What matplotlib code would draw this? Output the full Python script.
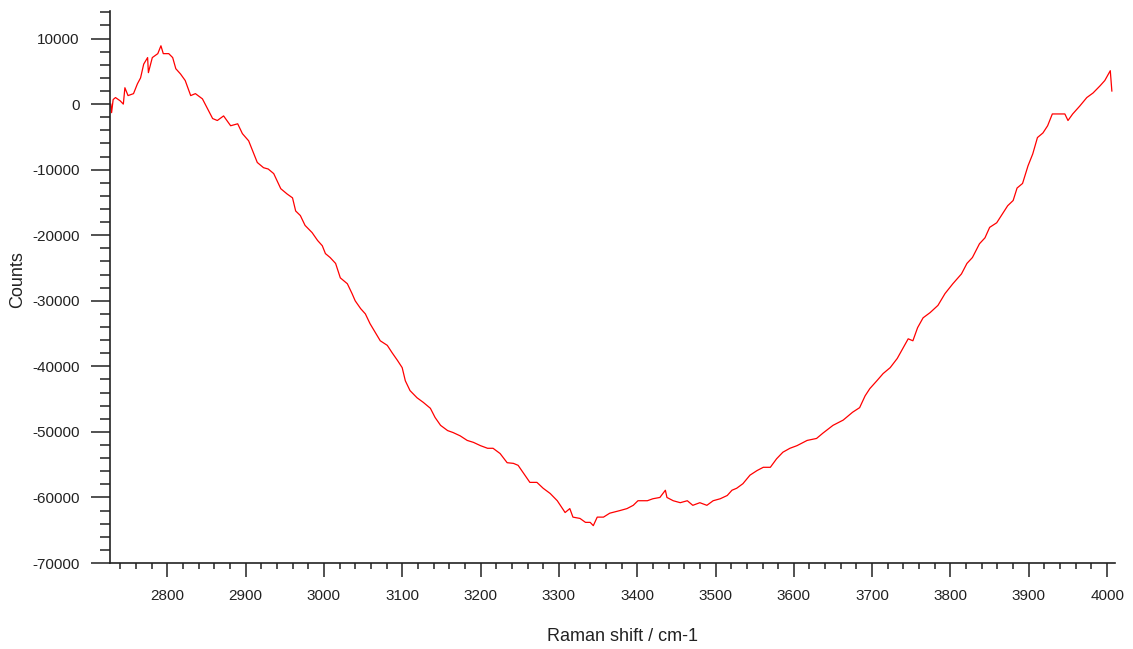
import numpy as np
import matplotlib
matplotlib.use("Agg")
import matplotlib.pyplot as plt
from matplotlib.ticker import MultipleLocator

# Raman spectrum, values
shift = [2728, 2729, 2731, 2734, 2740, 2744, 2746, 2750, 2757, 2762,
         2766, 2770, 2775, 2776, 2781, 2788, 2792, 2795, 2802, 2807,
         2811, 2817, 2823, 2830, 2836, 2845, 2851, 2858, 2864, 2872,
         2881, 2890, 2896, 2904, 2909, 2915, 2923, 2929, 2936, 2945,
         2953, 2960, 2964, 2970, 2976, 2985, 2992, 2998, 3002, 3008,
         3015, 3021, 3030, 3036, 3040, 3047, 3053, 3059, 3066, 3072,
         3081, 3087, 3094, 3100, 3104, 3110, 3119, 3127, 3136, 3142,
         3149, 3158, 3165, 3174, 3183, 3191, 3200, 3209, 3216, 3225,
         3234, 3242, 3248, 3255, 3263, 3272, 3280, 3289, 3298, 3308,
         3314, 3318, 3327, 3334, 3340, 3344, 3349, 3357, 3365, 3378,
         3387, 3395, 3401, 3413, 3420, 3429, 3436, 3438, 3446, 3455,
         3464, 3471, 3480, 3489, 3497, 3506, 3515, 3521, 3527, 3535,
         3544, 3553, 3561, 3570, 3578, 3586, 3595, 3604, 3617, 3629,
         3637, 3650, 3663, 3675, 3684, 3691, 3697, 3706, 3714, 3723,
         3732, 3739, 3746, 3752, 3758, 3765, 3774, 3784, 3793, 3803,
         3814, 3821, 3828, 3837, 3844, 3850, 3859, 3873, 3880, 3885,
         3892, 3899, 3905, 3911, 3918, 3924, 3930, 3939, 3946, 3950,
         3956, 3965, 3974, 3982, 3991, 3997, 4004, 4006]

counts = [0, -1300, 700, 1000, 500, 0, 2500, 1300, 1600, 3100,
          4000, 6100, 7100, 4800, 7100, 7700, 8900, 7700, 7700, 7100,
          5400, 4600, 3600, 1300, 1600, 800, -600, -2200, -2500, -1800,
          -3300, -3000, -4500, -5600, -7100, -8900, -9700, -9900, -10600, -12900,
          -13700, -14300, -16300, -17000, -18500, -19600, -20800, -21600, -22800, -23400,
          -24300, -26500, -27400, -28900, -30000, -31200, -32000, -33500, -34900, -36100,
          -36800, -37900, -39100, -40200, -42200, -43700, -44800, -45500, -46400, -47800,
          -49000, -49800, -50100, -50600, -51300, -51600, -52100, -52500, -52500, -53300,
          -54700, -54800, -55100, -56300, -57700, -57700, -58600, -59400, -60500, -62300,
          -61700, -63000, -63200, -63800, -63800, -64300, -63000, -63000, -62400, -62000,
          -61700, -61200, -60500, -60500, -60200, -60000, -58900, -60000, -60500, -60800,
          -60500, -61200, -60800, -61200, -60500, -60200, -59700, -58900, -58600, -57900,
          -56600, -55900, -55400, -55400, -54100, -53100, -52500, -52100, -51300, -51000,
          -50200, -49000, -48200, -47000, -46300, -44500, -43400, -42200, -41100, -40200,
          -38800, -37300, -35800, -36100, -34100, -32600, -31800, -30700, -28900, -27400,
          -25900, -24300, -23400, -21300, -20400, -18800, -18100, -15500, -14700, -12800,
          -12100, -9400, -7600, -5100, -4400, -3300, -1500, -1500, -1500, -2500,
          -1500, -300, 1000, 1700, 2800, 3600, 5100, 2000]

plt.rcParams['font.family'] = ['Liberation Sans', 'DejaVu Sans']
plt.rcParams['axes.unicode_minus'] = False

fig = plt.figure(figsize=(11.33, 6.49), dpi=100)
ax = fig.add_axes([0.0971, 0.1325, 0.887, 0.8505])

ax.plot(shift, counts, color='#ff0000', lw=0.9)

ax.set_xlim(2727, 4010)
ax.set_ylim(-70000, 14200)

ax.xaxis.set_major_locator(MultipleLocator(100))
ax.xaxis.set_minor_locator(MultipleLocator(20))
ax.yaxis.set_major_locator(MultipleLocator(10000))
ax.yaxis.set_minor_locator(MultipleLocator(2000))

for side in ['top', 'right']:
    ax.spines[side].set_visible(False)
for side in ['left', 'bottom']:
    ax.spines[side].set_linewidth(1.2)
    ax.spines[side].set_color('#222222')

ax.tick_params(axis='y', which='major', direction='out', length=14, width=1.1,
               color='#222222', labelsize=11, labelcolor='#222222', pad=8)
ax.tick_params(axis='y', which='minor', direction='out', length=7, width=1.1,
               color='#222222')
ax.tick_params(axis='x', which='major', direction='out', length=10, width=1.1,
               color='#222222', labelsize=11, labelcolor='#222222', pad=9)
ax.tick_params(axis='x', which='minor', direction='out', length=4, width=1.1,
               color='#222222')

ax.set_xlabel('Raman shift / cm-1', fontsize=13, color='#222222')
ax.set_ylabel('Counts', fontsize=13, color='#222222')
ax.xaxis.set_label_coords(0.51, -0.118)
ax.yaxis.set_label_coords(-0.0836, 0.513)

fig.savefig('out.png', dpi=100)
